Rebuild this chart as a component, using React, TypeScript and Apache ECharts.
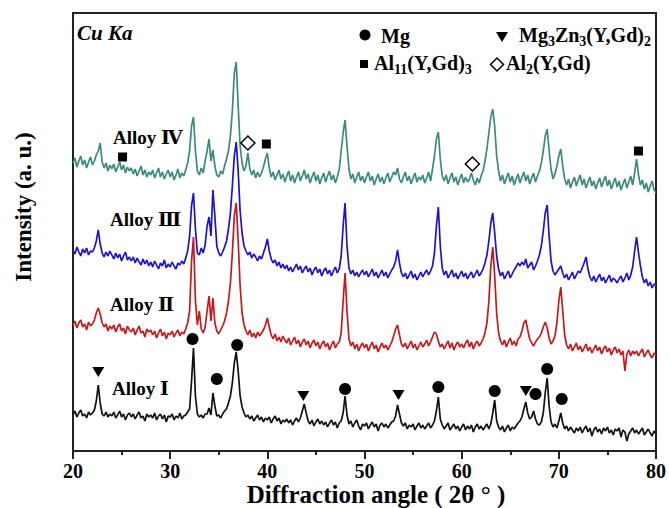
import React, { useEffect, useRef } from "react";
import * as echarts from "echarts";

const SERIF = "'Liberation Serif', 'Times New Roman', 'DejaVu Serif', serif";

// 2θ grid: 20° .. 80° in 0.2° steps (301 points)
const ANGLE_MIN = 20;
const ANGLE_MAX = 80;
const ANGLE_STEP = 0.2;
const X_TICK_INTERVAL = 10;

// Intensities (arbitrary units, offset per pattern)
const alloy1 = [
  36, 40, 34, 38, 41, 35, 37, 33, 39, 36,
  38, 41, 50, 66, 48, 37, 35, 39, 34, 37,
  35, 39, 33, 36, 40, 34, 37, 31, 36, 38,
  34, 37, 32, 36, 39, 33, 35, 30, 37, 34,
  36, 33, 38, 31, 35, 37, 32, 36, 29, 35,
  34, 37, 31, 35, 33, 38, 32, 35, 36, 39,
  42, 70, 103, 55, 37, 34, 36, 33, 37, 37,
  43, 36, 58, 45, 35, 36, 33, 37, 40, 42,
  48, 55, 68, 88, 99, 80, 55, 44, 38, 34,
  36, 32, 35, 30, 33, 36, 31, 34, 29, 33,
  31, 34, 28, 32, 35, 30, 33, 27, 31, 29,
  32, 28, 31, 26, 30, 33, 29, 33, 40, 47,
  38, 30, 27, 31, 25, 29, 32, 27, 30, 26,
  29, 24, 28, 31, 26, 29, 23, 28, 30, 38,
  55, 36, 27, 30, 24, 28, 31, 25, 21, 27,
  25, 28, 22, 26, 29, 24, 27, 20, 26, 28,
  24, 27, 23, 26, 29, 30, 35, 46, 37, 28,
  25, 28, 22, 26, 24, 27, 21, 25, 28, 23,
  26, 22, 25, 28, 23, 26, 30, 40, 54, 32,
  26, 22, 25, 28, 21, 24, 27, 22, 25, 20,
  24, 27, 21, 25, 22, 26, 19, 24, 27, 22,
  25, 21, 24, 27, 22, 27, 38, 51, 30, 24,
  21, 25, 19, 23, 26, 20, 24, 22, 25, 28,
  30, 34, 42, 49, 38, 32, 34, 40, 32, 27,
  26, 29, 38, 58, 73, 45, 29, 24, 27, 23,
  30, 38, 28, 22, 25, 20, 24, 21, 18, 23,
  20, 24, 18, 22, 25, 19, 23, 15, 21, 24,
  19, 22, 17, 23, 20, 24, 18, 21, 16, 22,
  20, 23, 14, 21, 19, 10, 17, 20, 23, 18,
  21, 17, 20, 23, 16, 19, 22, 18, 15, 20,
  17,
];

const alloy2 = [
  126, 130, 123, 128, 131, 124, 127, 121, 129, 125,
  127, 131, 138, 143, 137, 128, 124, 127, 120, 125,
  122, 126, 119, 124, 127, 120, 123, 117, 125, 121,
  119, 123, 116, 121, 125, 118, 120, 114, 122, 119,
  121, 116, 120, 113, 118, 122, 115, 119, 112, 118,
  116, 120, 114, 118, 121, 115, 119, 117, 122, 128,
  140, 190, 214, 150, 126, 140, 122, 118, 124, 140,
  155, 130, 153, 128, 120, 117, 121, 125, 130, 138,
  150, 168, 198, 235, 248, 210, 165, 138, 126, 120,
  116, 121, 114, 118, 113, 119, 115, 118, 121, 126,
  133, 124, 116, 112, 117, 110, 114, 109, 115, 111,
  108, 113, 106, 110, 114, 107, 111, 104, 109, 112,
  106, 110, 103, 108, 111, 105, 109, 102, 107, 110,
  104, 108, 101, 106, 110, 103, 107, 109, 118, 150,
  178, 140, 112, 105, 109, 102, 107, 100, 105, 108,
  103, 107, 100, 105, 109, 102, 106, 99, 104, 108,
  103, 106, 101, 105, 109, 115, 122, 126, 116, 107,
  104, 108, 102, 106, 110, 103, 107, 101, 105, 109,
  104, 107, 111, 105, 109, 114, 119, 117, 110, 104,
  107, 102, 106, 110, 103, 108, 101, 106, 109, 104,
  107, 103, 108, 111, 104, 109, 102, 107, 110, 105,
  108, 112, 118, 128, 150, 185, 204, 175, 138, 118,
  110, 106, 111, 104, 109, 113, 106, 110, 105, 112,
  114, 120, 128, 131, 121, 112, 108, 105, 109, 112,
  114, 118, 124, 129, 123, 113, 107, 110, 115, 128,
  150, 164, 140, 116, 106, 102, 107, 100, 104, 108,
  101, 105, 99, 103, 107, 100, 104, 98, 102, 106,
  100, 104, 97, 102, 105, 99, 103, 96, 101, 104,
  98, 102, 96, 100, 80, 97, 101, 95, 100, 97,
  100, 95, 99, 102, 94, 98, 101, 96, 93, 98,
  96,
];

const alloy3 = [
  201, 197, 204, 199, 195, 202, 198, 203, 196, 200,
  199, 203, 210, 221, 207, 198, 194, 199, 195, 200,
  196, 192, 198, 193, 197, 190, 195, 199, 191, 194,
  190, 194, 188, 193, 189, 186, 192, 187, 191, 185,
  189, 184, 190, 186, 182, 188, 185, 191, 183, 187,
  184, 189, 185, 182, 188, 186, 190, 187, 193, 200,
  215, 245, 258, 222, 198, 196, 203, 198, 206, 225,
  234, 215, 261, 235, 205, 198, 195, 199, 204, 210,
  222, 238, 265, 295, 309, 280, 240, 218, 205, 200,
  196, 199, 193, 197, 194, 190, 195, 192, 198, 204,
  212, 200, 192, 188, 191, 185, 189, 183, 187, 182,
  186, 180, 184, 179, 183, 187, 181, 185, 178, 182,
  185, 179, 183, 176, 181, 184, 178, 182, 175, 180,
  183, 177, 181, 175, 180, 184, 178, 182, 195, 225,
  248, 205, 183, 177, 181, 175, 179, 174, 178, 181,
  176, 180, 174, 178, 182, 175, 179, 173, 177, 181,
  175, 179, 173, 177, 181, 184, 190, 201, 188, 178,
  174, 178, 172, 176, 180, 173, 177, 171, 175, 179,
  174, 178, 181, 176, 180, 185, 198, 225, 244, 205,
  183, 176, 180, 173, 177, 181, 174, 178, 172, 176,
  180, 174, 178, 172, 176, 179, 173, 177, 181, 175,
  178, 182, 188, 196, 210, 228, 238, 218, 195, 182,
  175, 179, 172, 176, 180, 173, 177, 181, 184, 188,
  185, 189, 186, 192, 183, 186, 189, 181, 185, 190,
  196, 205, 220, 238, 246, 215, 190, 180, 176, 179,
  182, 185, 178, 173, 177, 171, 175, 179, 172, 176,
  180, 178, 183, 188, 194, 182, 174, 170, 175, 169,
  173, 177, 170, 174, 168, 172, 176, 169, 173, 171,
  168, 172, 175, 169, 173, 178, 171, 176, 184, 200,
  214, 198, 185, 174, 168, 172, 165, 169, 163, 167,
  166,
];

const alloy4 = [
  288, 293, 284, 290, 295, 286, 291, 283, 289, 294,
  286, 290, 296, 300, 308, 289, 283, 288, 280, 286,
  282, 287, 279, 284, 289, 281, 286, 278, 284, 280,
  283, 277, 282, 275, 280, 285, 276, 281, 274, 279,
  276, 281, 273, 278, 283, 274, 279, 272, 277, 281,
  274, 279, 271, 276, 282, 273, 278, 275, 281, 288,
  300, 325, 334, 300, 280, 276, 283, 278, 290, 300,
  312, 290, 301, 285, 276, 274, 280, 277, 285, 292,
  300, 315, 340, 378, 389, 345, 305, 288, 280, 285,
  298, 282, 276, 281, 273, 279, 274, 278, 284, 292,
  298, 283, 274, 279, 271, 276, 281, 272, 277, 269,
  275, 280, 270, 276, 268, 274, 279, 270, 275, 281,
  272, 277, 268, 274, 279, 270, 276, 267, 273, 278,
  269, 275, 280, 271, 276, 268, 274, 282, 300, 318,
  331, 305, 282, 272, 277, 268, 274, 279, 270, 275,
  268, 274, 279, 270, 275, 266, 272, 277, 269, 274,
  267, 273, 278, 269, 274, 279, 276, 283, 272, 268,
  274, 279, 270, 275, 267, 273, 278, 269, 274, 271,
  276, 268, 273, 279, 270, 282, 295, 312, 319, 292,
  275, 270, 276, 267, 273, 278, 269, 274, 266, 272,
  277, 268, 274, 269, 272, 278, 271, 266, 273, 268,
  275, 280, 290, 302, 318, 334, 342, 325, 295, 280,
  270, 276, 267, 273, 278, 269, 275, 266, 272, 277,
  268, 274, 279, 270, 276, 267, 273, 278, 269, 275,
  280, 288, 300, 315, 322, 300, 282, 272, 277, 285,
  295, 302, 285, 272, 266, 272, 263, 269, 274, 265,
  271, 276, 266, 272, 263, 269, 274, 265, 270, 262,
  268, 273, 264, 270, 275, 265, 271, 262, 268, 273,
  264, 270, 261, 267, 272, 263, 269, 275, 266, 278,
  292, 276, 266, 271, 262, 268, 259, 265, 270, 261,
  258,
];

// Phase markers [2θ, intensity position]
const mgMarks = [
  [32.3, 112], [34.8, 72], [36.9, 106], [48.0, 62], [57.6, 64],
  [63.4, 60], [67.6, 57], [68.8, 82], [70.3, 52],
];
const mg3zn3Marks = [[22.6, 79], [43.7, 55], [53.5, 56], [66.6, 60]];
const al11Marks = [[25.1, 294], [39.9, 307], [78.2, 300]];
const al2Marks = [[38.0, 308], [61.1, 287]];

const alloyNames = ["Alloy Ⅰ", "Alloy Ⅱ", "Alloy Ⅲ", "Alloy Ⅳ"];
const alloyColors = ["#111111", "#c8181c", "#1c12d6", "#3b8a7c"];
const phaseNames = ["Mg", "Mg{s|3}Zn{s|3}(Y,Gd){s|2}", "Al{s|11}(Y,Gd){s|3}", "Al{s|2}(Y,Gd)"];

const Y_MAX = 438;

function toPairs(vals: number[]) {
  return vals.map((v, i) => [Number((ANGLE_MIN + i * ANGLE_STEP).toFixed(1)), v]);
}

export default function App() {
  const ref = useRef<HTMLDivElement>(null);
  useEffect(() => {
    if (!ref.current) return;
    const chart = echarts.init(ref.current, undefined, { renderer: "svg" });
    const spectra = [alloy4, alloy3, alloy2, alloy1];
    const colors = [alloyColors[3], alloyColors[2], alloyColors[1], alloyColors[0]];
    const lineSeries = spectra.map((vals, k) => ({
      type: "line",
      data: toPairs(vals),
      showSymbol: false,
      symbol: "none",
      silent: true,
      z: 2 + k,
      lineStyle: { color: colors[k], width: 1.7 },
    }));
    const boldText = (extra: any) => ({
      fill: "#000",
      fontFamily: SERIF,
      fontWeight: "bold",
      ...extra,
    });
    const subRich = {
      s: { fontSize: 14, fontWeight: "bold", fontFamily: SERIF, fill: "#000", padding: [12, 0, 0, 0] },
    };
    const alloyLabelPos = [[112, 388], [110, 304], [110, 219], [113, 137]];

    const option: any = {
      animation: false,
      backgroundColor: "#fff",
      grid: {
        left: 73, right: 10, top: 13, bottom: 57,
        show: true, borderColor: "#222", borderWidth: 2,
      },
      xAxis: {
        type: "value",
        min: ANGLE_MIN,
        max: ANGLE_MAX,
        interval: X_TICK_INTERVAL,
        axisLine: { lineStyle: { color: "#222", width: 2 } },
        axisTick: { inside: false, length: 8, lineStyle: { color: "#222", width: 2 } },
        minorTick: { show: true, splitNumber: 2, length: 4, lineStyle: { color: "#222", width: 2 } },
        axisLabel: { color: "#000", fontSize: 20, fontWeight: "bold", fontFamily: SERIF, margin: 10, lineHeight: 20 },
        splitLine: { show: false },
      },
      yAxis: {
        type: "value",
        min: 0,
        max: Y_MAX,
        axisLine: { show: true, lineStyle: { color: "#222", width: 2 } },
        axisTick: { show: false },
        axisLabel: { show: false },
        splitLine: { show: false },
      },
      series: [
        ...lineSeries,
        {
          type: "scatter", data: mgMarks, symbol: "circle", symbolSize: 12, z: 10,
          itemStyle: { color: "#000", opacity: 1 }, silent: true,
        },
        {
          type: "scatter", data: mg3zn3Marks, symbol: "triangle", symbolRotate: 180, symbolSize: [12, 10], z: 10,
          itemStyle: { color: "#000", opacity: 1 }, silent: true,
        },
        {
          type: "scatter", data: al11Marks, symbol: "rect", symbolSize: 9, z: 10,
          itemStyle: { color: "#000", opacity: 1 }, silent: true,
        },
        {
          type: "scatter", data: al2Marks, symbol: "diamond", symbolSize: 14, z: 10,
          itemStyle: { color: "#fff", borderColor: "#000", borderWidth: 1.5, opacity: 1 }, silent: true,
        },
      ],
      graphic: [
        {
          type: "text", left: 77, top: 22, z: 20,
          style: boldText({ text: "Cu Ka", fontSize: 21, fontStyle: "italic" }),
        },
        // legend markers
        { type: "circle", shape: { cx: 365, cy: 35, r: 5.5 }, style: { fill: "#000" }, z: 20 },
        { type: "polygon", shape: { points: [[496, 32], [508, 32], [502, 42]] }, style: { fill: "#000" }, z: 20 },
        { type: "rect", shape: { x: 360, y: 60, width: 8, height: 8 }, style: { fill: "#000" }, z: 20 },
        {
          type: "polygon", shape: { points: [[497, 58], [503.5, 64.5], [497, 71], [490.5, 64.5]] },
          style: { fill: "#fff", stroke: "#000", lineWidth: 1.5 }, z: 20,
        },
        // legend texts
        { type: "text", x: 381, y: 36, z: 20, style: boldText({ text: phaseNames[0], fontSize: 20, verticalAlign: "middle" }) },
        { type: "text", x: 519, y: 35, z: 20, style: boldText({ text: phaseNames[1], fontSize: 20, verticalAlign: "middle", rich: subRich }) },
        { type: "text", x: 374, y: 63, z: 20, style: boldText({ text: phaseNames[2], fontSize: 20, verticalAlign: "middle", rich: subRich }) },
        { type: "text", x: 506, y: 63, z: 20, style: boldText({ text: phaseNames[3], fontSize: 20, verticalAlign: "middle", rich: subRich }) },
        // alloy labels
        ...alloyNames.map((name, k) => ({
          type: "text", x: alloyLabelPos[k][0], y: alloyLabelPos[k][1], z: 20,
          style: boldText({ text: name, fontSize: 19, verticalAlign: "middle" }),
        })),
        // axis names
        {
          type: "text", x: 23, y: 207, rotation: Math.PI / 2, z: 20,
          style: boldText({ text: "Intensity (a. u.)", fontSize: 23, align: "center", verticalAlign: "middle" }),
        },
        {
          type: "text", x: 376, y: 494, z: 20,
          style: boldText({ text: "Diffraction angle ( 2θ ° )", fontSize: 25, align: "center", verticalAlign: "middle" }),
        },
      ],
    };
    chart.setOption(option);
    return () => chart.dispose();
  }, []);
  return (
    <div
      ref={ref}
      style={{ position: "fixed", left: 0, top: 0, width: 669, height: 508, background: "#fff" }}
    />
  );
}
